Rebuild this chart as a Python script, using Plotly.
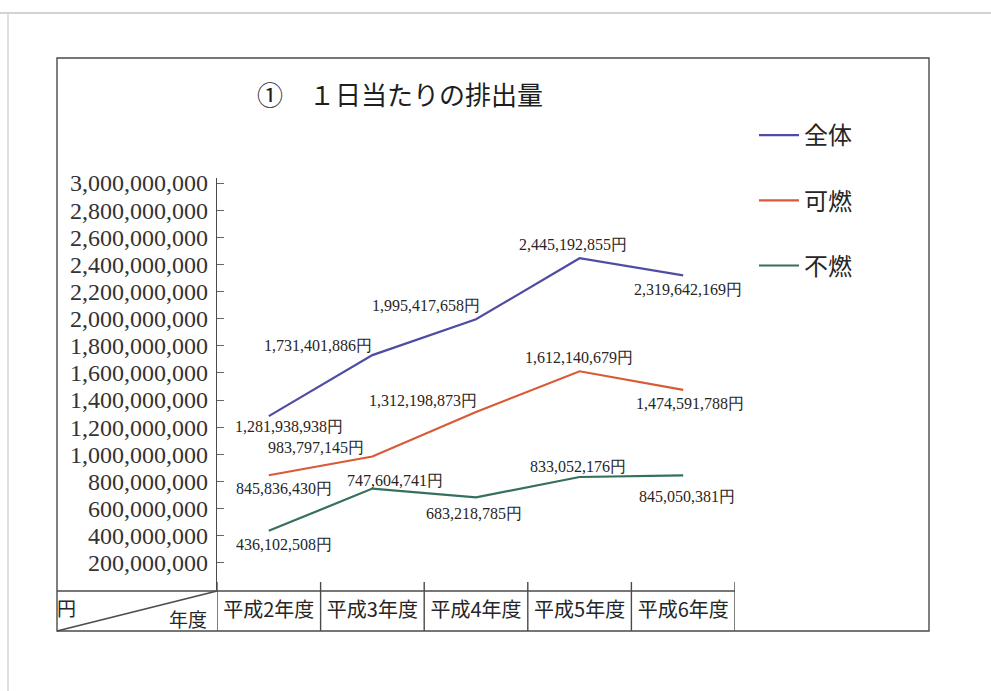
import plotly.graph_objects as go

# ---- data -------------------------------------------------------------
categories = ["平成2年度", "平成3年度", "平成4年度", "平成5年度", "平成6年度"]
series_names = ["全体", "可燃", "不燃"]
total = [1281938938, 1731401886, 1995417658, 2445192855, 2319642169]
burnable = [845836430, 983797145, 1312198873, 1612140679, 1474591788]
nonburnable = [436102508, 747604741, 683218785, 833052176, 845050381]
y_tickvals = [200000000 * k for k in range(1, 16)]

# ---- styling ----------------------------------------------------------
W, H = 991, 691
TOP_PAD = 8            # canvas starts this far below the top of the page
colors = ["#4f4ca3", "#d95a36", "#35705c"]
serif = "Liberation Serif, DejaVu Serif, serif"
gothic = "Noto Sans CJK JP, sans-serif"
ink = "#262626"
rule = "#4a4a4a"

# label offsets (pixels) relative to each point, per series
label_shift = [
    [(20, -10), (-54, 10), (-50, 14), (-7, 14), (5, -14)],
    [(15, -13), (-56, 9), (-53, 11), (-1, 14), (7, -14)],
    [(15, -14), (23, 8), (-2, -16), (-2, 10), (4, -21)],
]


def px(x):
    return x / W


def py(y):
    return 1 - (y - TOP_PAD) / (H - TOP_PAD)


# plot box in page pixels
X0, X1 = 217, 735          # category band
Y_ZERO, Y_TOP = 590, 178   # axis baseline / top of axis line
Y_TICKTOP = 183            # where the 3,000,000,000 tick sits
y_max = y_tickvals[-1] * (Y_ZERO - Y_TOP) / (Y_ZERO - Y_TICKTOP)

fig = go.Figure()
for name, vals, col in zip(series_names, [total, burnable, nonburnable], colors):
    fig.add_trace(go.Scatter(
        x=categories, y=vals, name=name, mode="lines",
        line=dict(color=col, width=2.2),
        legendgroup=name, hoverinfo="skip",
    ))

annotations = []
for vals, shifts in zip([total, burnable, nonburnable], label_shift):
    for cat, v, (dx, dy) in zip(categories, vals, shifts):
        annotations.append(dict(
            x=cat, y=v, xref="x", yref="y", text=f"{v:,}円",
            showarrow=False, xshift=dx, yshift=dy,
            xanchor="center", yanchor="middle",
            font=dict(family=serif, size=16, color=ink),
        ))


def page_text(x, y, text, size, color=ink):
    return dict(x=px(x), y=py(y), xref="paper", yref="paper", text=text,
                showarrow=False, xanchor="center", yanchor="middle",
                font=dict(family=gothic, size=size, color=color))


annotations.append(page_text(400, 93, "①　１日当たりの排出量", 26, "#1e1e1e"))
annotations.append(page_text(66, 607, "円", 19))
annotations.append(page_text(188, 618, "年度", 19))

line_style = dict(color=rule, width=1.4)
shapes = [
    # page edges
    dict(type="line", xref="paper", yref="paper", x0=0, x1=1, y0=py(13), y1=py(13),
         line=dict(color="#c4c4c4", width=1.5)),
    dict(type="line", xref="paper", yref="paper", x0=px(8), x1=px(8), y0=py(13), y1=0,
         line=dict(color="#d6d6d6", width=1.5)),
    # outer frame
    dict(type="rect", xref="paper", yref="paper", x0=px(57), x1=px(929),
         y0=py(631), y1=py(58), line=line_style),
    # category table top rule
    dict(type="line", xref="paper", yref="paper", x0=px(57), x1=px(X1),
         y0=py(591), y1=py(591), line=line_style),
    # diagonal in the corner cell
    dict(type="line", xref="paper", yref="paper", x0=px(57), x1=px(X0),
         y0=py(631), y1=py(591), line=line_style),
]
# cell dividers on the category boundaries
for k in range(len(categories) + 1):
    shapes.append(dict(type="line", xref="x", yref="paper", x0=k - 0.5, x1=k - 0.5,
                       y0=py(631), y1=py(582), line=line_style))

fig.update_layout(
    width=W, height=H,
    margin=dict(l=0, r=0, t=0, b=0),
    paper_bgcolor="white", plot_bgcolor="rgba(0,0,0,0)",
    showlegend=True,
    legend=dict(
        x=px(754), y=py(113), xanchor="left", yanchor="top",
        font=dict(family=gothic, size=24, color=ink),
        tracegroupgap=31, itemwidth=40, bgcolor="rgba(0,0,0,0)",
    ),
    annotations=annotations,
    shapes=shapes,
    xaxis=dict(
        domain=[px(X0), px(X1)], range=[-0.5, len(categories) - 0.5],
        type="category", showgrid=False, zeroline=False, showline=False,
        ticks="", tickfont=dict(family=gothic, size=20, color=ink),
        ticklabelstandoff=6,
    ),
    yaxis=dict(
        domain=[py(Y_ZERO), py(Y_TOP)], range=[0, y_max],
        tickvals=y_tickvals, tickformat=",",
        showgrid=False, zeroline=False,
        showline=True, linecolor=rule, linewidth=1.4,
        ticks="inside", ticklen=7, tickcolor="#666", tickwidth=1,
        ticklabelstandoff=3,
        tickfont=dict(family=serif, size=24, color="#333"),
    ),
)

fig.write_html("out.html")
